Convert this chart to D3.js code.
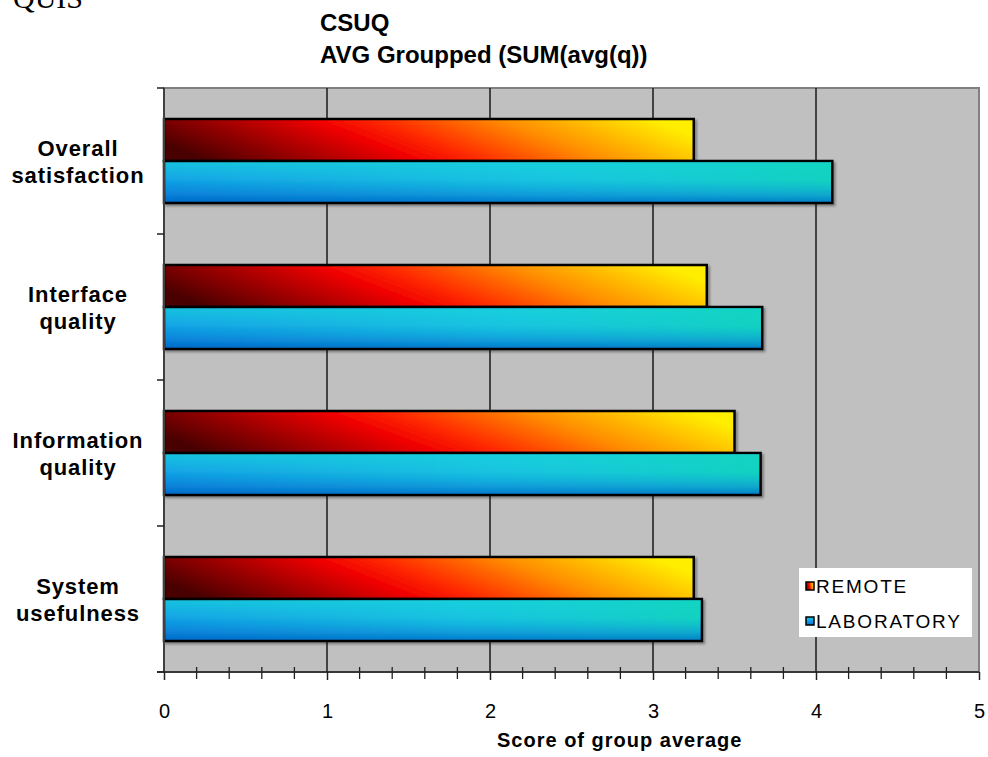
<!DOCTYPE html>
<html>
<head>
<meta charset="utf-8">
<script src="https://cdn.jsdelivr.net/npm/d3@7/dist/d3.min.js"></script>
<style>
  html, body { margin: 0; padding: 0; background: #fff; }
  svg { display: block; }
</style>
</head>
<body>
<svg id="chart" width="988" height="757"></svg>
<script>
// CSUQ scores, averaged per question group
const categories = [
  ["Overall", "satisfaction"],
  ["Interface", "quality"],
  ["Information", "quality"],
  ["System", "usefulness"]
];
const seriesNames = ["REMOTE", "LABORATORY"];
const remoteValues = [3.25, 3.33, 3.50, 3.25];
const laboratoryValues = [4.10, 3.67, 3.66, 3.30];
const xTicks = [0, 1, 2, 3, 4, 5];

const svg = d3.select("#chart");
const plot = { left: 164, right: 979, top: 88, bottom: 672 };
const font = "Liberation Sans, Arial, sans-serif";

const x = d3.scaleLinear().domain([0, 5]).range([plot.left, plot.right]);
const y = d3.scaleBand().domain(d3.range(categories.length))
  .range([plot.top, plot.bottom]).padding(0);
const inner = d3.scaleBand().domain(seriesNames)
  .range([0, y.bandwidth()]).paddingInner(0).paddingOuter(0.738);

const defs = svg.append("defs");

// warm horizontal fill for REMOTE
const gR = defs.append("linearGradient").attr("id", "gradRemote")
  .attr("x1", 0).attr("y1", 0.6).attr("x2", 1).attr("y2", 0.4);
[[0, "#4a0606"], [0.18, "#980404"], [0.38, "#f00000"], [0.5, "#ff2a00"],
 [0.72, "#ff8c00"], [0.88, "#ffc400"], [1, "#ffee00"]]
  .forEach(([o, c]) => gR.append("stop").attr("offset", o).attr("stop-color", c));

// cool vertical fill for LABORATORY
const gL = defs.append("linearGradient").attr("id", "gradLab")
  .attr("x1", 0).attr("y1", 0).attr("x2", 0).attr("y2", 1);
[[0, "#18c4de"], [0.4, "#14a8e6"], [0.75, "#0a86dc"], [1, "#0068c8"]]
  .forEach(([o, c]) => gL.append("stop").attr("offset", o).attr("stop-color", c));

// teal tint that grows to the right and fades toward the bottom
const gT = defs.append("linearGradient").attr("id", "gradLabTint")
  .attr("x1", 0).attr("y1", 0).attr("x2", 1).attr("y2", 0);
gT.append("stop").attr("offset", 0).attr("stop-color", "#1ad8d8").attr("stop-opacity", 0);
gT.append("stop").attr("offset", 0.55).attr("stop-color", "#1ad8dc").attr("stop-opacity", 0.6);
gT.append("stop").attr("offset", 1).attr("stop-color", "#12d6bc").attr("stop-opacity", 0.9);
const gM = defs.append("linearGradient").attr("id", "gradFade")
  .attr("x1", 0).attr("y1", 0).attr("x2", 0).attr("y2", 1);
gM.append("stop").attr("offset", 0).attr("stop-color", "#fff");
gM.append("stop").attr("offset", 0.45).attr("stop-color", "#fff");
gM.append("stop").attr("offset", 1).attr("stop-color", "#444");
defs.append("mask").attr("id", "fadeMask")
  .attr("maskContentUnits", "objectBoundingBox")
  .append("rect").attr("width", 1).attr("height", 1).attr("fill", "url(#gradFade)");

const sh = defs.append("filter").attr("id", "shadow")
  .attr("x", "-5%").attr("y", "-20%").attr("width", "110%").attr("height", "150%");
sh.append("feDropShadow").attr("dx", 2).attr("dy", 2).attr("stdDeviation", 1.2)
  .attr("flood-color", "#000").attr("flood-opacity", 0.35);

// plot background
svg.append("rect")
  .attr("x", plot.left).attr("y", plot.top)
  .attr("width", plot.right - plot.left).attr("height", plot.bottom - plot.top)
  .attr("fill", "#c0c0c0").attr("stroke", "#808080").attr("stroke-width", 2);

// vertical gridlines
svg.append("g").selectAll("line").data(xTicks.slice(1, -1)).join("line")
  .attr("x1", d => x(d)).attr("x2", d => x(d))
  .attr("y1", plot.top).attr("y2", plot.bottom)
  .attr("stroke", "#1a1a1a").attr("stroke-width", 1.5);

// bars
const groups = svg.append("g").selectAll("g").data(categories).join("g")
  .attr("transform", (d, i) => `translate(0,${y(i)})`);

groups.each(function (d, i) {
  const g = d3.select(this);
  const rv = remoteValues[i], lv = laboratoryValues[i];
  g.append("rect")
    .attr("x", x(0)).attr("y", inner("REMOTE"))
    .attr("width", x(rv) - x(0)).attr("height", inner.bandwidth())
    .attr("fill", "url(#gradRemote)").attr("stroke", "#000").attr("stroke-width", 2.5)
    .attr("filter", "url(#shadow)");
  g.append("rect")
    .attr("x", x(0)).attr("y", inner("LABORATORY"))
    .attr("width", x(lv) - x(0)).attr("height", inner.bandwidth())
    .attr("fill", "url(#gradLab)").attr("stroke", "#000").attr("stroke-width", 2.5)
    .attr("filter", "url(#shadow)");
  g.append("rect")
    .attr("x", x(0) + 1.25).attr("y", inner("LABORATORY") + 1.25)
    .attr("width", x(lv) - x(0) - 2.5).attr("height", inner.bandwidth() - 2.5)
    .attr("fill", "url(#gradLabTint)").attr("mask", "url(#fadeMask)");
});

// left axis with ticks at category boundaries
svg.append("line")
  .attr("x1", plot.left).attr("x2", plot.left)
  .attr("y1", plot.top).attr("y2", plot.bottom)
  .attr("stroke", "#404040").attr("stroke-width", 2);
svg.append("g").selectAll("line").data(d3.range(categories.length + 1)).join("line")
  .attr("x1", plot.left - 7).attr("x2", plot.left)
  .attr("y1", i => plot.top + i * y.step()).attr("y2", i => plot.top + i * y.step())
  .attr("stroke", "#202020").attr("stroke-width", 1.5);

// bottom axis
const xAxis = d3.axisBottom(x).tickValues(xTicks).tickSize(8).tickFormat(d3.format("d"));
const ax = svg.append("g").attr("transform", `translate(0,${plot.bottom})`).call(xAxis);
ax.select(".domain").attr("stroke", "#202020").attr("stroke-width", 1.5)
  .attr("d", `M${plot.left - 7},0H${plot.right}`);
ax.selectAll(".tick line").attr("stroke", "#202020").attr("stroke-width", 1.5);
ax.selectAll(".tick text")
  .attr("y", 46).attr("dy", 0)
  .attr("font-family", font)
  .attr("font-size", 20).attr("fill", "#000");

// minor ticks every 0.2
const minor = d3.range(0, 5.0001, 0.2).filter(v => Math.abs(v - Math.round(v)) > 1e-6);
svg.append("g").selectAll("line").data(minor).join("line")
  .attr("x1", d => x(d)).attr("x2", d => x(d))
  .attr("y1", plot.bottom - 5).attr("y2", plot.bottom + 7)
  .attr("stroke", "#202020").attr("stroke-width", 1.3);

// category labels
const labels = svg.append("g").selectAll("text").data(categories).join("text")
  .attr("text-anchor", "middle")
  .attr("font-family", font)
  .attr("font-weight", "bold").attr("font-size", 22).attr("letter-spacing", 0.9)
  .attr("fill", "#000");
labels.each(function (d, i) {
  const t = d3.select(this);
  const cy = y(i) + y.bandwidth() / 2;
  d.forEach((line, k) => {
    t.append("tspan").attr("x", 78).attr("y", cy - 5 + k * 27).text(line);
  });
});

// titles
svg.append("text").attr("x", 13).attr("y", 8)
  .attr("font-family", "Liberation Serif, Times New Roman, serif")
  .attr("font-size", 30).attr("fill", "#000").text("QUIS");
svg.append("text").attr("x", 320).attr("y", 31)
  .attr("font-family", font).attr("font-weight", "bold").attr("font-size", 24)
  .attr("fill", "#000").text("CSUQ");
svg.append("text").attr("x", 320).attr("y", 63)
  .attr("font-family", font).attr("font-weight", "bold").attr("font-size", 24)
  .attr("fill", "#000").text("AVG Groupped (SUM(avg(q))");
svg.append("text").attr("x", 497).attr("y", 747)
  .attr("font-family", font).attr("font-weight", "bold").attr("font-size", 20)
  .attr("letter-spacing", 1).attr("fill", "#000").text("Score of group average");

// legend
const legend = svg.append("g");
legend.append("rect").attr("x", 799).attr("y", 568).attr("width", 173).attr("height", 69)
  .attr("fill", "#fff");
const fills = ["url(#gradRemote)", "url(#gradLab)"];
seriesNames.forEach((name, k) => {
  const yy = 582 + k * 35;
  legend.append("rect").attr("x", 806).attr("y", yy).attr("width", 8).attr("height", 8)
    .attr("fill", fills[k]).attr("stroke", "#000").attr("stroke-width", 1.5);
  legend.append("text").attr("x", 816).attr("y", yy + 11)
    .attr("font-family", font).attr("font-size", 19).attr("letter-spacing", 1.8)
    .attr("fill", "#000").text(name);
});
</script>
</body>
</html>
